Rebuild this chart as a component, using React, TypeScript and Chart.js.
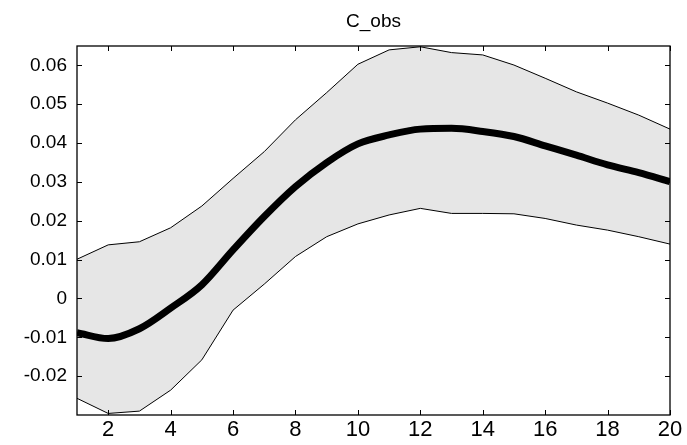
import React, { useEffect, useRef } from 'react';
import { Chart, registerables } from 'chart.js';

Chart.register(...registerables);

const steps = [1, 2, 3, 4, 5, 6, 7, 8, 9, 10, 11, 12, 13, 14, 15, 16, 17, 18, 19, 20];
const meanValues = [-0.0088, -0.0103, -0.0078, -0.0025, 0.0035, 0.0125, 0.0211, 0.0288, 0.0350, 0.0398, 0.0421, 0.0436, 0.0438, 0.0430, 0.0417, 0.0393, 0.0369, 0.0344, 0.0324, 0.0301];
const upperValues = [0.0101, 0.0138, 0.0146, 0.0182, 0.0238, 0.0309, 0.0378, 0.0460, 0.0530, 0.0603, 0.0640, 0.0648, 0.0633, 0.0627, 0.0601, 0.0567, 0.0532, 0.0503, 0.0472, 0.0436];
const lowerValues = [-0.0257, -0.0296, -0.0290, -0.0236, -0.0158, -0.0030, 0.0037, 0.0108, 0.0159, 0.0192, 0.0215, 0.0232, 0.0219, 0.0219, 0.0218, 0.0206, 0.0189, 0.0176, 0.0159, 0.0140];
const xTicks = [2, 4, 6, 8, 10, 12, 14, 16, 18, 20];
const yTicks = [-0.02, -0.01, 0, 0.01, 0.02, 0.03, 0.04, 0.05, 0.06];
const titleText = 'C_obs';

const boxPlugin = {
  id: 'matlabBox',
  afterDraw(chart: any) {
    const { ctx, chartArea: a, scales } = chart;
    ctx.save();
    ctx.strokeStyle = '#000';
    ctx.lineWidth = 1.3;
    ctx.strokeRect(a.left, a.top, a.right - a.left, a.bottom - a.top);
    ctx.lineWidth = 1;
    const tl = 5;
    ctx.beginPath();
    xTicks.forEach((v) => {
      const px = Math.round(scales.x.getPixelForValue(v)) + 0.5;
      ctx.moveTo(px, a.bottom);
      ctx.lineTo(px, a.bottom - tl);
      ctx.moveTo(px, a.top);
      ctx.lineTo(px, a.top + tl);
    });
    yTicks.forEach((v) => {
      const py = Math.round(scales.y.getPixelForValue(v)) + 0.5;
      ctx.moveTo(a.left, py);
      ctx.lineTo(a.left + tl, py);
      ctx.moveTo(a.right, py);
      ctx.lineTo(a.right - tl, py);
    });
    ctx.stroke();
    ctx.fillStyle = '#000';
    ctx.font = '19px "Liberation Sans", Arial, sans-serif';
    ctx.textAlign = 'center';
    ctx.textBaseline = 'middle';
    ctx.fillText(titleText, (a.left + a.right) / 2, 22);
    ctx.restore();
  },
};

export default function App() {
  const ref = useRef<HTMLCanvasElement | null>(null);
  useEffect(() => {
    if (!ref.current) return;
    const chart = new Chart(ref.current, {
      type: 'line',
      data: {
        labels: steps,
        datasets: [
          {
            data: meanValues.map((v, i) => ({ x: steps[i], y: v })),
            borderColor: '#000',
            borderWidth: 7,
            pointRadius: 0,
            fill: false,
            cubicInterpolationMode: 'monotone',
            borderJoinStyle: 'round',
            borderCapStyle: 'butt',
            order: 0,
          },
          {
            data: upperValues.map((v, i) => ({ x: steps[i], y: v })),
            borderColor: '#000',
            borderWidth: 1,
            pointRadius: 0,
            backgroundColor: '#e6e6e6',
            fill: '+1',
            tension: 0,
            order: 2,
          },
          {
            data: lowerValues.map((v, i) => ({ x: steps[i], y: v })),
            borderColor: '#000',
            borderWidth: 1,
            pointRadius: 0,
            fill: false,
            tension: 0,
            order: 1,
          },
        ],
      },
      options: {
        animation: false,
        responsive: false,
        layout: { padding: { top: 46, right: 17, left: 0, bottom: 0 } },
        plugins: { legend: { display: false }, title: { display: false }, tooltip: { enabled: false } },
        scales: {
          x: {
            type: 'linear',
            min: 1,
            max: 20,
            grid: { display: false, drawTicks: false },
            border: { display: false },
            afterBuildTicks: (s: any) => {
              s.ticks = xTicks.map((v) => ({ value: v }));
            },
            afterFit: (s: any) => {
              s.height = 30;
            },
            ticks: {
              padding: 2,
              maxRotation: 0,
              autoSkip: false,
              color: '#000',
              font: { family: '"Liberation Sans", Arial, sans-serif', size: 22 },
              callback: (v: any) => String(v),
            },
          },
          y: {
            min: -0.03,
            max: 0.065,
            grid: { display: false, drawTicks: false },
            border: { display: false },
            afterBuildTicks: (s: any) => {
              s.ticks = yTicks.map((v) => ({ value: v }));
            },
            afterFit: (s: any) => {
              s.width = 77;
            },
            ticks: {
              padding: 10,
              autoSkip: false,
              color: '#000',
              font: { family: '"Liberation Sans", Arial, sans-serif', size: 19 },
              callback: (v: any) => String(v),
            },
          },
        },
      },
      plugins: [boxPlugin],
    } as any);
    return () => chart.destroy();
  }, []);
  return (
    <div style={{ position: 'absolute', left: 0, top: 0, width: 687, height: 445, background: '#fff' }}>
      <canvas ref={ref} width={687} height={445} />
    </div>
  );
}
